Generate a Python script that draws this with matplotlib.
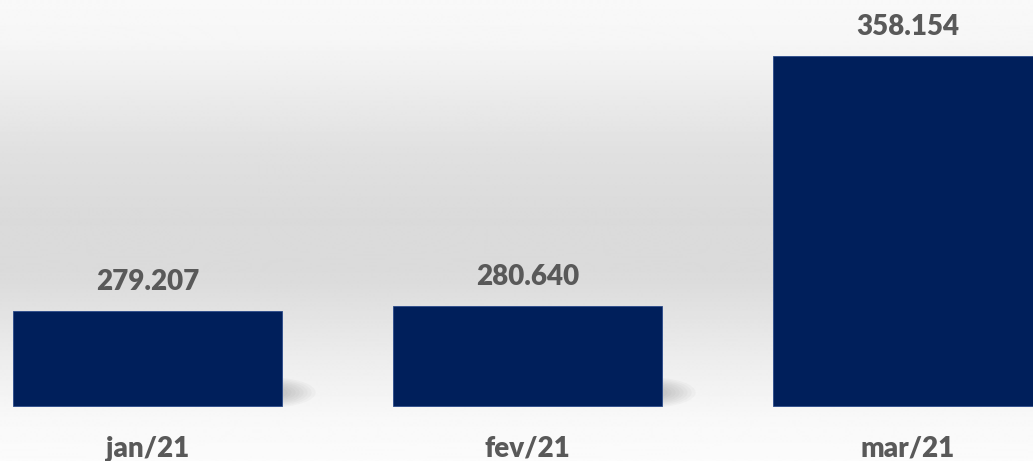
import numpy as np
import matplotlib.pyplot as plt
from matplotlib.patches import Ellipse

# data
months = ["jan/21", "fev/21", "mar/21"]
values = [279207, 280640, 358154]
labels = ["279.207", "280.640", "358.154"]

base = 250000
px_per_unit = 3.234 / 1000  # pixels per unit of value

W, H = 1033, 461
fig = plt.figure(figsize=(W / 100, H / 100), dpi=100)

# background gradient (grey in the middle, lighter at top and bottom)
bg = fig.add_axes([0, 0, 1, 1])
stops_y = [0, 40, 150, 220, 280, 360, 420, 461]
stops_v = [0.975, 0.965, 0.88, 0.855, 0.86, 0.93, 0.975, 0.985]
rows = np.interp(np.arange(H), stops_y, stops_v)
grad = np.repeat(rows[:, None], 2, axis=1)
bg.imshow(grad, cmap="gray", vmin=0, vmax=1, aspect="auto",
          extent=[0, 1, 0, 1], interpolation="bilinear")
bg.axis("off")

ax = fig.add_axes([0, 0, 1, 1])
ax.patch.set_alpha(0)
x = np.arange(len(months))

# y-limits so that base sits at 405.5 px from top
ylo = base - 55.5 / px_per_unit
yhi = base + 405.5 / px_per_unit
ax.set_ylim(ylo, yhi)
xlo = -147.5 / 380
ax.set_xlim(xlo, xlo + W / 380)

bw = 269 / 380

# soft shadow at the bottom right of each bar
for xi in x:
    for k in range(8):
        e = Ellipse((xi + bw / 2 - 0.03, base + 13 / px_per_unit),
                    width=(90 - k * 8) / 380, height=(30 - k * 2.5) / px_per_unit,
                    facecolor="#505050", alpha=0.035, edgecolor="none", zorder=1)
        ax.add_patch(e)

ax.bar(x, [v - base for v in values], bottom=base, width=bw,
       color="#001f5b", edgecolor="#2a4a8a", linewidth=0.6, zorder=2)

for xi, v, lab in zip(x, values, labels):
    ax.text(xi, v + 21 / px_per_unit, lab, ha="center", va="baseline",
            fontsize=20, fontweight="heavy", color="#595959",
            family="Lato")

for xi, m in zip(x, months):
    ax.text(xi, base - 51 / px_per_unit, m, ha="center", va="baseline",
            fontsize=20, fontweight="heavy", color="#595959", family="Lato")

ax.axis("off")
fig.savefig("out.png", dpi=100)
